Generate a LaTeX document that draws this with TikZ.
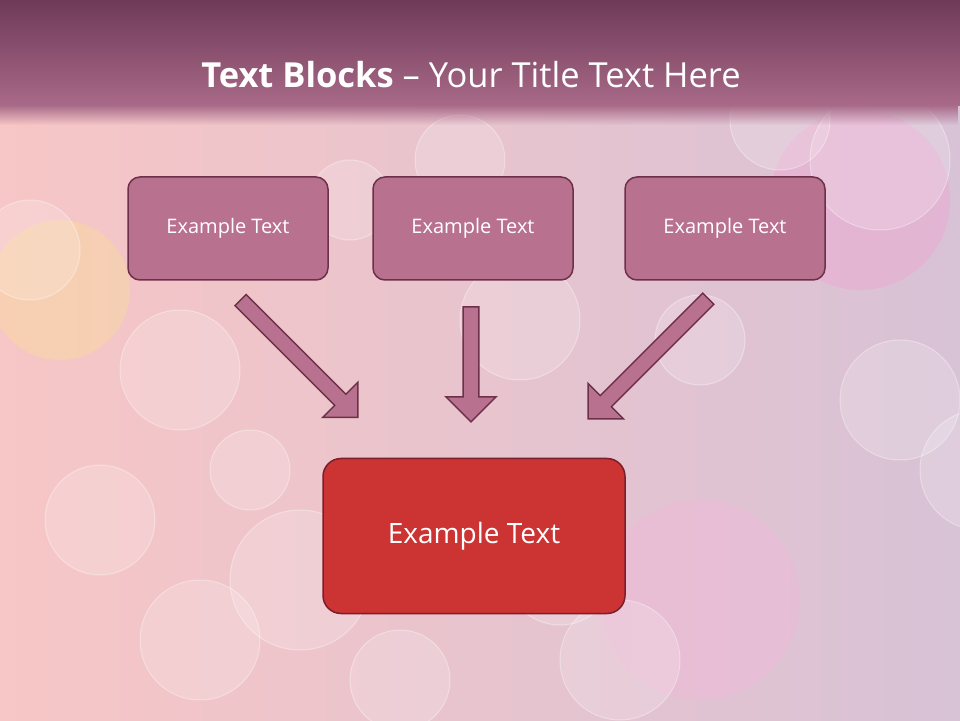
\documentclass[tikz,border=0pt]{standalone}
\usepackage{fontspec}
\setmainfont{Open Sans}
\usetikzlibrary{shapes.arrows,fadings}
\definecolor{boxf}{HTML}{B8728F}
\definecolor{boxd}{HTML}{6E3048}
\definecolor{redf}{HTML}{CC3333}
\definecolor{redd}{HTML}{7A1F2A}
\definecolor{bgl}{HTML}{F7C6C6}
\definecolor{bgr}{HTML}{D8C2D6}
\definecolor{tdark}{HTML}{6E3A58}
\definecolor{tlight}{HTML}{A86A88}
\tikzset{
 topbox/.style={draw=boxd,line width=1.5pt,fill=boxf,rounded corners=12pt,minimum width=200pt,minimum height=103pt,text=white,font=\fontsize{20}{23}\selectfont},
 blockarrow/.style={single arrow,draw=boxd,line width=1.5pt,fill=boxf,inner sep=7pt,minimum width=50pt,single arrow head extend=17pt,single arrow head indent=0pt},
 bokeh/.style={fill=white,fill opacity=0.18,draw=white,draw opacity=0.35,line width=1pt}
}
\begin{document}
\begin{tikzpicture}[x=1pt,y=1pt]
\useasboundingbox (0,0) rectangle (960,720);
\shade[left color=bgl,right color=bgr] (0,0) rectangle (960,720);
\fill[yellow!60!white,opacity=0.2] (60,430) circle (70);
\fill[magenta!40!white,opacity=0.3] (860,520) circle (90);
\fill[magenta!30!white,opacity=0.3] (700,120) circle (100);
\foreach \x/\y/\r in {30/470/50,180/350/60,460/560/45,520/400/60,700/380/45,900/320/60,880/560/70,300/140/70,200/80/60,560/150/55,980/250/60,400/40/50,100/200/55,620/60/60,780/600/50,250/250/40,350/520/40}
 \draw[bokeh] (\x,\y) circle (\r);
\fill[tlight,path fading=south] (0,615) rectangle (960,595);
\shade[top color=tdark,bottom color=tlight] (0,720) rectangle (960,614);
\node[text=white,font=\fontsize{34.5}{39}\selectfont] (title) at (471,645) {\textbf{Text Blocks} – Your Title Text Here};
\node[topbox] (a) at (228,491.5) {Example Text};
\node[topbox] (b) at (473,491.5) {Example Text};
\node[topbox] (c) at (725,491.5) {Example Text};
\node[draw=redd,line width=1.5pt,fill=redf,rounded corners=18pt,minimum width=302pt,minimum height=155pt,text=white,font=\fontsize{28}{31}\selectfont] (d) at (474,184) {Example Text};
\node[blockarrow,minimum height=166pt,rotate=-45] (la) at (296.5,364) {};
\node[blockarrow,minimum height=115pt,rotate=-90] (ma) at (471,359.5) {};
\node[blockarrow,minimum height=170pt,rotate=-135] (ra) at (651,364) {};
\end{tikzpicture}
\end{document}
